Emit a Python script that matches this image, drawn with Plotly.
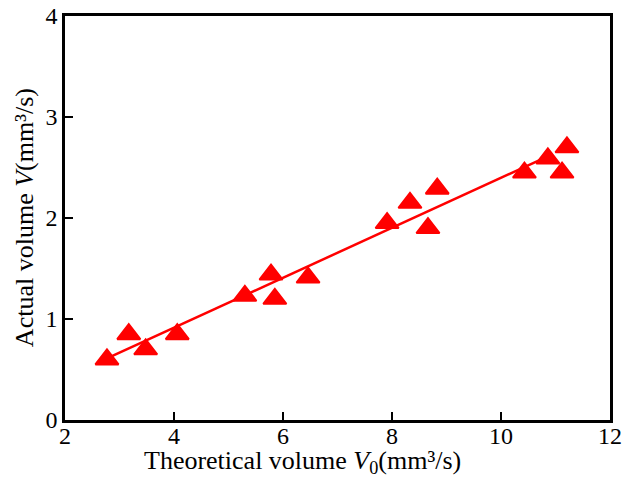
import plotly.graph_objects as go

# Measured points: theoretical vs actual volume (mm³/s)
theoretical_v0 = [2.77, 3.17, 3.48, 4.06, 5.30, 5.78, 5.85, 6.46,
                  7.91, 8.33, 8.66, 8.83, 10.43, 10.86, 11.12, 11.21]
actual_v = [0.60, 0.85, 0.70, 0.85, 1.23, 1.44, 1.20, 1.41,
            1.95, 2.15, 1.90, 2.29, 2.45, 2.59, 2.45, 2.70]

# Linear fit line end points
fit_x = [2.77, 10.86]
fit_y = [0.61, 2.61]

x_ticks = [2, 4, 6, 8, 10, 12]
y_ticks = [0, 1, 2, 3, 4]

RED = "#ff0000"
FONT = "Liberation Serif, Times New Roman, serif"

fig = go.Figure()
fig.add_trace(go.Scatter(
    x=fit_x, y=fit_y, mode="lines",
    line=dict(color=RED, width=2.5),
    showlegend=False, hoverinfo="skip",
))
fig.add_trace(go.Scatter(
    x=theoretical_v0, y=actual_v, mode="markers",
    marker=dict(symbol="triangle-up", size=20, color=RED,
                line=dict(color=RED, width=2)),
    showlegend=False,
))

axis_common = dict(
    showgrid=False, zeroline=False, automargin=False,
    showline=True, linecolor="black", linewidth=2.5, mirror=True,
    ticks="inside", ticklen=8, tickwidth=2, tickcolor="black",
    tickfont=dict(family=FONT, size=24, color="black"),
)

fig.update_layout(
    width=623, height=479,
    margin=dict(l=65, r=13, t=16, b=59),
    paper_bgcolor="white", plot_bgcolor="white",
    xaxis=dict(range=[2, 12], tickvals=x_ticks,
               ticktext=[str(v) for v in x_ticks],
               ticklabelstandoff=-8, **axis_common),
    yaxis=dict(range=[0, 4], tickvals=y_ticks,
               ticktext=[str(v) for v in y_ticks], **axis_common),
    annotations=[
        dict(text="Theoretical volume <i>V</i><sub>0</sub>(mm³/s)",
             xref="paper", yref="paper", x=0.435, y=-0.105,
             xanchor="center", yanchor="middle", showarrow=False,
             font=dict(family=FONT, size=26, color="black")),
        dict(text="Actual volume <i>V</i>(mm³/s)",
             xref="paper", yref="paper", x=-0.075, y=0.5,
             xanchor="center", yanchor="middle", showarrow=False,
             textangle=-90,
             font=dict(family=FONT, size=26, color="black")),
    ],
)

fig.write_html("out.html")
